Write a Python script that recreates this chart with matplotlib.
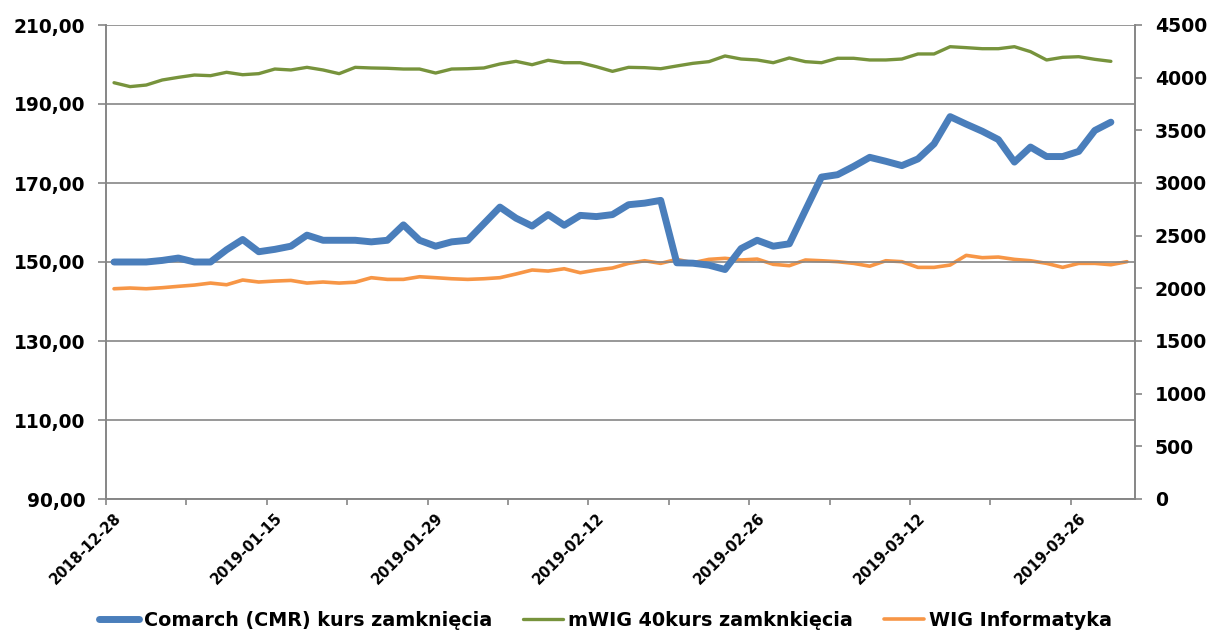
import matplotlib
matplotlib.use("Agg")
import matplotlib.pyplot as plt
from matplotlib.ticker import FixedLocator, FuncFormatter

dates = ["2018-12-28", "2019-01-02", "2019-01-03", "2019-01-04", "2019-01-07", "2019-01-08",
         "2019-01-09", "2019-01-10", "2019-01-11", "2019-01-14", "2019-01-15", "2019-01-16",
         "2019-01-17", "2019-01-18", "2019-01-21", "2019-01-22", "2019-01-23", "2019-01-24",
         "2019-01-25", "2019-01-28", "2019-01-29", "2019-01-30", "2019-01-31", "2019-02-01",
         "2019-02-04", "2019-02-05", "2019-02-06", "2019-02-07", "2019-02-08", "2019-02-11",
         "2019-02-12", "2019-02-13", "2019-02-14", "2019-02-15", "2019-02-18", "2019-02-19",
         "2019-02-20", "2019-02-21", "2019-02-22", "2019-02-25", "2019-02-26", "2019-02-27",
         "2019-02-28", "2019-03-01", "2019-03-04", "2019-03-05", "2019-03-06", "2019-03-07",
         "2019-03-08", "2019-03-11", "2019-03-12", "2019-03-13", "2019-03-14", "2019-03-15",
         "2019-03-18", "2019-03-19", "2019-03-20", "2019-03-21", "2019-03-22", "2019-03-25",
         "2019-03-26", "2019-03-27", "2019-03-28", "2019-03-29"]

comarch = [150.0, 150.0, 150.0, 150.4, 151.0, 150.0, 150.0, 153.1, 155.7, 152.6,
           153.2, 154.0, 156.8, 155.5, 155.5, 155.5, 155.1, 155.5, 159.4, 155.5,
           154.0, 155.1, 155.5, 159.7, 163.9, 161.1, 159.1, 162.0, 159.3, 161.8,
           161.5, 162.0, 164.5, 164.9, 165.6, 149.8, 149.7, 149.2, 148.1, 153.4,
           155.5, 154.0, 154.6, 163.1, 171.5, 172.1, 174.2, 176.5, 175.5, 174.4,
           176.1, 179.9, 186.8, 184.9, 183.1, 181.0, 175.3, 179.1, 176.7, 176.7,
           178.0, 183.3, 185.4]

mwig40 = [3952, 3915, 3930, 3978, 4003, 4025, 4019, 4051, 4028, 4038,
          4082, 4073, 4098, 4073, 4038, 4098, 4092, 4089, 4082, 4082,
          4044, 4082, 4085, 4092, 4130, 4155, 4123, 4165, 4142, 4142,
          4104, 4060, 4098, 4095, 4085, 4111, 4136, 4152, 4206, 4177,
          4168, 4142, 4187, 4152, 4142, 4184, 4184, 4168, 4168, 4177,
          4225, 4225, 4294, 4285, 4275, 4275, 4294, 4247, 4168, 4193,
          4199, 4174, 4155]

wig_info = [1996, 2003, 1996, 2006, 2019, 2031, 2050, 2034, 2079, 2060,
            2069, 2075, 2050, 2060, 2050, 2058, 2101, 2085, 2085, 2110,
            2101, 2091, 2085, 2091, 2101, 2136, 2174, 2164, 2186, 2148,
            2174, 2193, 2237, 2262, 2237, 2275, 2243, 2275, 2285, 2269,
            2278, 2228, 2215, 2269, 2262, 2253, 2237, 2210, 2262, 2253,
            2199, 2199, 2221, 2313, 2291, 2297, 2275, 2262, 2237, 2199,
            2237, 2237, 2224, 2253]

series_names = ["Comarch (CMR) kurs zamknięcia", "mWIG 40kurs zamknkięcia", "WIG Informatyka"]
left_ticks = [90, 110, 130, 150, 170, 190, 210]
right_ticks = [0, 500, 1000, 1500, 2000, 2500, 3000, 3500, 4000, 4500]

BLUE = "#4A7EBB"
GREEN = "#77933C"
ORANGE = "#F79646"
GRID = "#868686"

plt.rcParams["font.family"] = ["DejaVu Sans"]

fig = plt.figure(figsize=(12.11, 6.32), dpi=100)
ax = fig.add_axes([106 / 1211, 1 - 499 / 632, (1135 - 106) / 1211, (499 - 25) / 632])
ax2 = ax.twinx()

n = len(dates)
xs = list(range(n))

l1, = ax.plot(xs[:len(comarch)], comarch, color=BLUE, lw=5.0, solid_capstyle="round",
              solid_joinstyle="round", zorder=5)
l2, = ax2.plot(xs[:len(mwig40)], mwig40, color=GREEN, lw=2.4, solid_capstyle="round",
               solid_joinstyle="round", zorder=4)
l3, = ax2.plot(xs[:len(wig_info)], wig_info, color=ORANGE, lw=2.6, solid_capstyle="round",
               solid_joinstyle="round", zorder=4)

ax.set_xlim(-0.5, n - 0.5)
ax.set_ylim(90, 210)
ax2.set_ylim(0, 4500)

ax.set_zorder(ax2.get_zorder() + 1)
ax.patch.set_visible(False)

ax.yaxis.set_major_locator(FixedLocator(left_ticks))
ax.yaxis.set_major_formatter(FuncFormatter(lambda v, p: f"{v:.2f}".replace(".", ",")))
ax2.yaxis.set_major_locator(FixedLocator(right_ticks))
ax2.yaxis.set_major_formatter(FuncFormatter(lambda v, p: f"{int(v)}"))

ax.grid(axis="y", color=GRID, lw=1.2)
ax.set_axisbelow(True)

# x ticks: marks every 5 categories at boundaries, labels every 10 categories
ax.xaxis.set_major_locator(FixedLocator([i - 0.5 for i in range(0, n + 1, 5)]))
ax.xaxis.set_major_formatter(FuncFormatter(lambda v, p: ""))
label_idx = list(range(0, n, 10))
ax.xaxis.set_minor_locator(FixedLocator(label_idx))
ax.set_xticklabels([dates[i] for i in label_idx], minor=True)
ax.tick_params(axis="x", which="major", length=4.5, color=GRID, width=1.2, direction="out")
ax.tick_params(axis="x", which="minor", length=0, pad=8)
for t in ax.get_xticklabels(minor=True):
    t.set_rotation(45)
    t.set_ha("right")
    t.set_va("top")
    t.set_rotation_mode("anchor")
    t.set_fontsize(10.5)
    t.set_fontweight("bold")

ax.tick_params(axis="y", length=5.8, color=GRID, width=1.2, labelsize=13.4, pad=9)
for t in ax.get_yticklabels():
    t.set_fontweight("bold")
ax2.tick_params(axis="y", length=5.2, color=GRID, width=1.2, labelsize=13.6, pad=9)
for t in ax2.get_yticklabels():
    t.set_fontweight("bold")

for a in (ax, ax2):
    for s in a.spines.values():
        s.set_color(GRID)
        s.set_linewidth(1.2)
ax.spines["top"].set_visible(False)
ax2.spines["top"].set_visible(False)

leg = fig.legend([l1, l2, l3], series_names, loc="center", bbox_to_anchor=(0.5, 1 - 620 / 632),
                 ncol=3, frameon=False, handlelength=2.1, columnspacing=1.6, handletextpad=0.25,
                 prop={"weight": "bold", "size": 13.8})
for h in leg.get_lines():
    h.set_solid_capstyle("round")

fig.savefig("out.png", dpi=100)
